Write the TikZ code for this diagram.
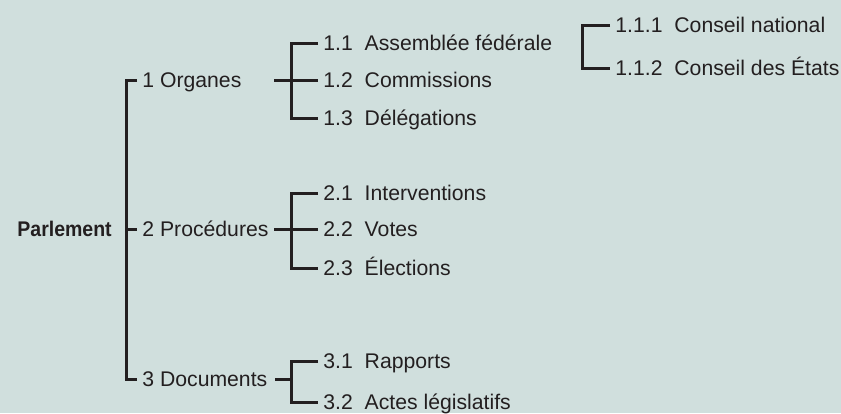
\documentclass[tikz,border=0pt]{standalone}
\usepackage{fontspec}
\setmainfont{Liberation Sans}
\definecolor{bg}{RGB}{208,223,221}
\definecolor{ink}{RGB}{35,31,32}
\begin{document}
\begin{tikzpicture}[x=0.5pt,y=-0.5pt,
  lbl/.style={anchor=west,inner xsep=2.5pt,inner ysep=0pt,text height=0.716em,text depth=0pt,
    font=\fontsize{10.6pt}{12pt}\selectfont,text=ink},
  tree/.style={draw=ink,line width=1.5pt,line join=miter,line cap=butt}]
\fill[bg] (0,0) rectangle (841,413);
\useasboundingbox (0,0) rectangle (841,413);
\newcommand{\nt}[2]{#1\hspace{0.56em}#2}
% root
\node[lbl,font=\fontsize{10.6pt}{12pt}\selectfont\bfseries] (root) at (12,229) {\scalebox{0.92}[1]{Parlement}};
% level 1
\node[lbl] (org) at (137,80) {1 Organes};
\node[lbl] (pro) at (137,229) {2 Procédures};
\node[lbl] (doc) at (137,379) {3 Documents};
% level 2
\node[lbl] (n11) at (318,43) {\nt{1.1}{Assemblée fédérale}};
\node[lbl] (n12) at (318,80) {\nt{1.2}{Commissions}};
\node[lbl] (n13) at (318,118) {\nt{1.3}{Délégations}};
\node[lbl] (n21) at (318,193) {\nt{2.1}{Interventions}};
\node[lbl] (n22) at (318,229) {\nt{2.2}{Votes}};
\node[lbl] (n23) at (318,268) {\nt{2.3}{Élections}};
\node[lbl] (n31) at (318,361) {\nt{3.1}{Rapports}};
\node[lbl] (n32) at (318,402) {\nt{3.2}{Actes législatifs}};
% level 3
\node[lbl] (n111) at (610,25) {\nt{1.1.1}{Conseil national}};
\node[lbl] (n112) at (610,68) {\nt{1.1.2}{Conseil des États}};
% coordinates
\coordinate (b0) at (126,229);
\coordinate (s1) at (274,80);
\coordinate (c1) at (291,80);
\coordinate (s2) at (274,229);
\coordinate (c2) at (291,229);
\coordinate (s3) at (275,379);
\coordinate (c3) at (291,379);
\coordinate (c4) at (582,46);
% connectors
\draw[tree] (org.west) -| (b0) |- (doc.west);
\draw[tree] (b0) -- (pro.west);
\draw[tree] (s1) -- (n12.west);
\draw[tree] (n11.west) -| (c1) |- (n13.west);
\draw[tree] (s2) -- (n22.west);
\draw[tree] (n21.west) -| (c2) |- (n23.west);
\draw[tree] (s3) -- (c3);
\draw[tree] (n31.west) -| (c3) |- (n32.west);
\draw[tree] (n111.west) -| (c4) |- (n112.west);
\end{tikzpicture}
\end{document}
